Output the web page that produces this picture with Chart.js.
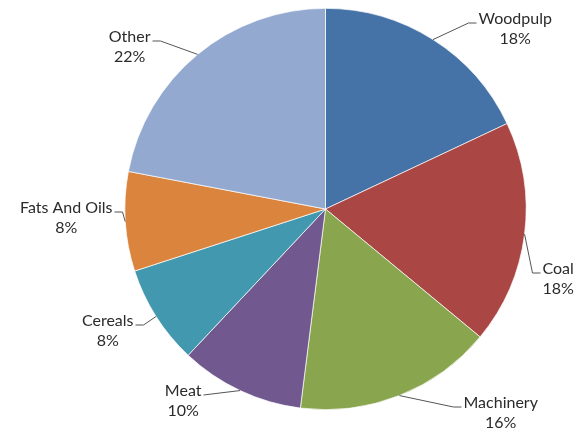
<!DOCTYPE html>
<html>
<head>
<meta charset="utf-8">
<script src="https://cdn.jsdelivr.net/npm/chart.js@4"></script>
<style>
    html, body { margin: 0; padding: 0; background: #fff; }
    #wrap { width: 585px; height: 432px; position: relative; }
</style>
</head>
<body>
<div id="wrap"><canvas id="pieChart"></canvas></div>
<script>
const categories = ['Woodpulp', 'Coal', 'Machinery', 'Meat', 'Cereals', 'Fats And Oils', 'Other'];
const shares = [18, 18, 16, 10, 8, 8, 22];
const sliceColors = ['#4572A7', '#AA4643', '#89A54E', '#71588F', '#4198AF', '#DB843D', '#93A9CF'];

// where each label's leader line bends, relative to the pie centre (px), and which side the text sits
const labelSpots = [
    { dx: 143, dy: -186, side: 'right' },
    { dx: 207, dy: 64, side: 'right' },
    { dx: 128, dy: 198, side: 'right' },
    { dx: -122, dy: 186, side: 'left', straight: true },
    { dx: -182, dy: 116, side: 'left' },
    { dx: -203, dy: 3, side: 'left' },
    { dx: -165, dy: -168, side: 'left' }
];

const leaderLabels = {
    id: 'leaderLabels',
    afterDatasetsDraw(chart) {
        const ctx = chart.ctx;
        const meta = chart.getDatasetMeta(0);
        const data = chart.data.datasets[0].data;
        const total = data.reduce((a, b) => a + b, 0);

        ctx.save();
        ctx.font = '16px Lato, "Open Sans", sans-serif';
        ctx.textBaseline = 'middle';

        meta.data.forEach((arc, i) => {
            const p = arc.getProps(['x', 'y', 'startAngle', 'endAngle', 'outerRadius'], true);
            const mid = (p.startAngle + p.endAngle) / 2;
            const sx = p.x + Math.cos(mid) * p.outerRadius;
            const sy = p.y + Math.sin(mid) * p.outerRadius;
            const spot = labelSpots[i];
            const ex = p.x + spot.dx;
            const ey = p.y + spot.dy;
            const dir = spot.side === 'right' ? 1 : -1;
            const tailX = spot.straight ? ex : ex + dir * 8;

            ctx.strokeStyle = '#555';
            ctx.lineWidth = 1;
            ctx.beginPath();
            ctx.moveTo(sx, sy);
            ctx.lineTo(ex, ey);
            ctx.lineTo(tailX, ey);
            ctx.stroke();

            const name = categories[i];
            const pct = Math.round(data[i] / total * 100) + '%';
            const w = ctx.measureText(name).width;
            const textX = spot.side === 'right' ? tailX + 2 : tailX - 2 - w;
            ctx.fillStyle = '#2b2b2b';
            ctx.textAlign = 'left';
            ctx.fillText(name, textX, ey - 4);
            ctx.textAlign = 'center';
            ctx.fillText(pct, textX + w / 2, ey + 16);
        });
        ctx.restore();
    }
};

new Chart(document.getElementById('pieChart'), {
    type: 'pie',
    data: {
        labels: categories,
        datasets: [{
            data: shares,
            backgroundColor: sliceColors,
            borderColor: '#ffffff',
            borderWidth: 0.7,
            hoverOffset: 0,
            offset: 0
        }]
    },
    options: {
        responsive: true,
        maintainAspectRatio: false,
        animation: false,
        layout: {
            padding: { left: 124, right: 58, top: 8, bottom: 22 }
        },
        plugins: {
            legend: { display: false },
            tooltip: { enabled: false }
        }
    },
    plugins: [leaderLabels]
});
</script>
</body>
</html>
